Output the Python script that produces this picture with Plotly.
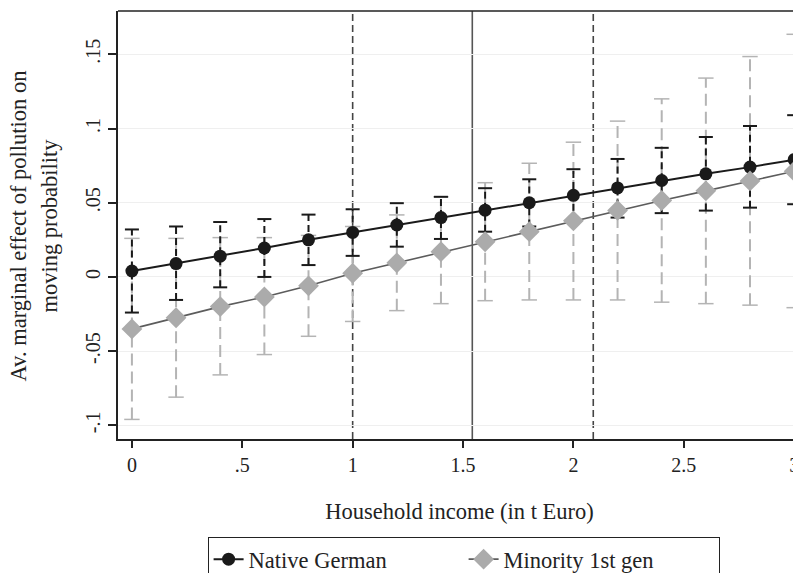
import plotly.graph_objects as go

# ---- data ----
income = [0.0, 0.2, 0.4, 0.6, 0.8, 1.0, 1.2, 1.4, 1.6, 1.8, 2.0, 2.2, 2.4, 2.6, 2.8, 3.0]

native_est = [0.004, 0.009, 0.014, 0.0195, 0.025, 0.030, 0.035, 0.040, 0.045, 0.050,
              0.055, 0.060, 0.065, 0.0695, 0.074, 0.079]
native_lo = [-0.024, -0.0155, -0.007, 0.0, 0.008, 0.0142, 0.0204, 0.0256, 0.0305, 0.034,
             0.037, 0.040, 0.043, 0.0447, 0.0467, 0.049]
native_hi = [0.032, 0.034, 0.037, 0.039, 0.042, 0.0456, 0.0497, 0.054, 0.0598, 0.0658,
             0.0726, 0.0795, 0.087, 0.0943, 0.1017, 0.109]

minority_est = [-0.035, -0.0275, -0.020, -0.0135, -0.006, 0.0025, 0.0095, 0.017, 0.0237, 0.0305,
                0.0378, 0.0448, 0.0515, 0.058, 0.0647, 0.0712]
minority_lo = [-0.096, -0.081, -0.066, -0.0523, -0.040, -0.030, -0.0227, -0.018, -0.016, -0.0155,
               -0.0155, -0.0155, -0.017, -0.018, -0.019, -0.0207]
minority_hi = [0.026, 0.026, 0.0265, 0.0265, 0.028, 0.034, 0.0418, 0.054, 0.0635, 0.0766,
               0.0908, 0.105, 0.120, 0.134, 0.1485, 0.1635]

ref_dashed = [1.0, 2.09]
ref_solid = [1.542]

x_ticks = [0, 0.5, 1, 1.5, 2, 2.5, 3]
x_ticklabels = ["0", ".5", "1", "1.5", "2", "2.5", "3"]
y_ticks = [-0.1, -0.05, 0, 0.05, 0.1, 0.15]
y_ticklabels = ["-.1", "-.05", "0", ".05", ".1", ".15"]

names = ["Native German", "Minority 1st gen"]
x_title = "Household income (in t Euro)"
y_title_lines = ["Av. marginal effect of pollution on", "moving probability"]

FONT = "Liberation Serif"
BLACK = "#1a1a1a"
GRAY_M = "#ababab"
GRAY_L = "#5c5c5c"
GRAY_CI = "#b4b4b4"


def segs(xs, lo, hi):
    sx, sy = [], []
    for x, a, b in zip(xs, lo, hi):
        sx += [x, x, None]
        sy += [a, b, None]
    return sx, sy


fig = go.Figure()

# CI for minority (gray dashed)
sx, sy = segs(income, minority_lo, minority_hi)
fig.add_trace(go.Scatter(x=sx, y=sy, mode="lines", showlegend=False, hoverinfo="skip",
                         line=dict(color=GRAY_CI, width=2, dash="12px,6px")))
fig.add_trace(go.Scatter(x=income + income, y=minority_lo + minority_hi, mode="markers",
                         showlegend=False, hoverinfo="skip",
                         marker=dict(symbol="line-ew-open", size=11, color=GRAY_CI,
                                     line=dict(color=GRAY_CI, width=1.5))))
# CI for native (black dashed)
sx, sy = segs(income, native_lo, native_hi)
fig.add_trace(go.Scatter(x=sx, y=sy, mode="lines", showlegend=False, hoverinfo="skip",
                         line=dict(color=BLACK, width=2, dash="7px,4px")))
fig.add_trace(go.Scatter(x=income + income, y=native_lo + native_hi, mode="markers",
                         showlegend=False, hoverinfo="skip",
                         marker=dict(symbol="line-ew-open", size=10, color=BLACK,
                                     line=dict(color=BLACK, width=2))))

# reference lines
for v in ref_dashed:
    fig.add_vline(x=v, line=dict(color="#444444", width=1.6, dash="7px,4px"), layer="below")
for v in ref_solid:
    fig.add_vline(x=v, line=dict(color="#555555", width=1.6), layer="below")

# point estimates
fig.add_trace(go.Scatter(x=income, y=native_est, mode="lines+markers", name=names[0],
                         line=dict(color=BLACK, width=2),
                         marker=dict(symbol="circle", size=13, color=BLACK)))
fig.add_trace(go.Scatter(x=income, y=minority_est, mode="lines+markers", name=names[1],
                         line=dict(color=GRAY_L, width=1.6),
                         marker=dict(symbol="diamond", size=16, color=GRAY_M)))

# page body adds an 8px offset, so the figure is sized to end at the window edge
fig.update_layout(
    width=793, height=565,
    margin=dict(l=110, r=0, t=3, b=134, autoexpand=False),
    paper_bgcolor="white", plot_bgcolor="white",
    font=dict(family=FONT, size=20, color="#222222"),
    showlegend=True,
    legend=dict(orientation="h", x=0.506, xanchor="center", y=-0.229, yanchor="top",
                bordercolor="#222222", borderwidth=1, font=dict(size=22.5, family=FONT),
                entrywidth=210, entrywidthmode="pixels", traceorder="normal"),
    xaxis=dict(range=[-0.063, 3.031], tickvals=x_ticks, ticktext=x_ticklabels,
               automargin=False,
               showgrid=False, zeroline=False, showline=True, linecolor="#222222", linewidth=2,
               ticks="outside", ticklen=7, tickwidth=1.5, tickcolor="#222222",
               tickfont=dict(size=20),
               title=dict(text=x_title, font=dict(size=22.5), standoff=28)),
    yaxis=dict(range=[-0.1092, 0.1792], tickvals=y_ticks, ticktext=y_ticklabels,
               automargin=False,
               showgrid=True, gridcolor="#efefef", gridwidth=1.2, zeroline=False,
               showline=True, linecolor="#222222", linewidth=2,
               ticks="outside", ticklen=8, tickwidth=1.5, tickcolor="#222222",
               tickangle=-90, tickfont=dict(size=20)),
)
# y-axis title as two rotated lines
for txt, xp in zip(y_title_lines, [-0.1450, -0.1010]):
    fig.add_annotation(text=txt, xref="paper", yref="paper", x=xp, y=0.4988,
                       xanchor="center", yanchor="middle", textangle=-90, showarrow=False,
                       font=dict(size=22.5, family=FONT, color="#222222"))
# top border of the plot region
fig.add_shape(type="line", xref="paper", yref="paper", x0=0, x1=1, y0=1, y1=1,
              line=dict(color="#222222", width=1.5))

fig.write_html("out.html")
